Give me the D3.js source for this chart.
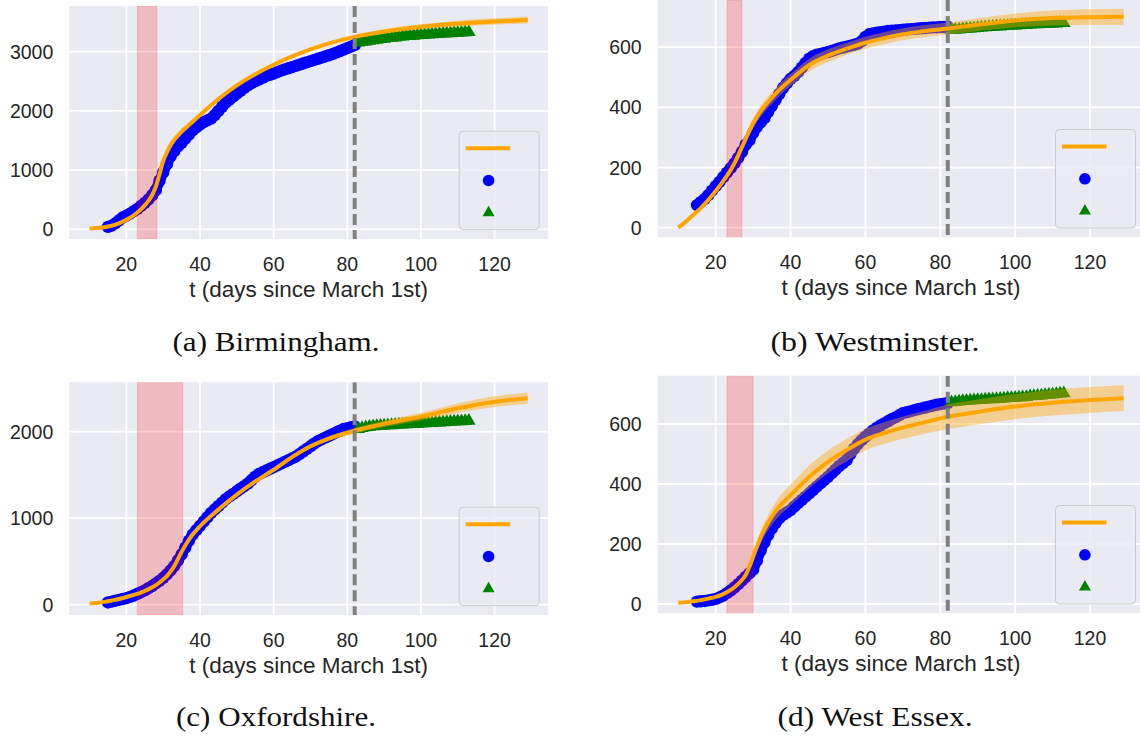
<!DOCTYPE html>
<html>
<head>
<meta charset="utf-8">
<script src="https://cdn.jsdelivr.net/npm/d3@7"></script>
<style>
  body { margin: 0; background: #fff; }
  svg { display: block; }
</style>
</head>
<body>
<script>
// days since March 1st
var T_FIT = [10, 12, 14, 16, 18, 20, 22, 24, 25, 26, 27, 28, 29, 30, 31, 32, 33, 35, 37, 40, 45, 50, 55, 60, 65, 70, 75, 82, 90, 100, 110, 120, 129];
var T_OBS = d3.range(15, 83);   // observed days (fit window)
var T_TEST = d3.range(83, 114); // held out days
var X_TICKS = [20, 40, 60, 80, 100, 120];
var CUTOFF = 82;

// Birmingham
var birminghamFit = [15, 22, 35, 60, 100, 160, 235, 340, 405, 480, 580, 720, 930, 1150, 1300, 1420, 1510, 1650, 1760, 1930, 2200, 2430, 2620, 2780, 2920, 3040, 3140, 3250, 3340, 3420, 3475, 3510, 3535];
var birminghamSpread = [2, 2, 3, 3, 4, 5, 6, 7, 8, 8, 9, 10, 10, 12, 12, 13, 14, 15, 16, 18, 20, 22, 24, 25, 27, 28, 30, 32, 36, 42, 48, 54, 58];
var birminghamObs = [40, 60, 100, 150, 200, 230, 265, 305, 345, 395, 445, 505, 575, 660, 820, 960, 1100, 1230, 1320, 1400, 1460, 1530, 1600, 1670, 1720, 1770, 1810, 1840, 1870, 1930, 2000, 2070, 2140, 2190, 2240, 2290, 2340, 2390, 2430, 2470, 2500, 2530, 2560, 2590, 2610, 2630, 2655, 2680, 2700, 2720, 2740, 2760, 2780, 2800, 2820, 2840, 2860, 2880, 2900, 2920, 2940, 2960, 2985, 3010, 3035, 3060, 3085, 3110];
var birminghamTest = [3155, 3165, 3172, 3185, 3192, 3200, 3212, 3218, 3230, 3236, 3240, 3250, 3254, 3262, 3266, 3270, 3276, 3280, 3286, 3290, 3294, 3298, 3302, 3305, 3310, 3312, 3318, 3320, 3324, 3328, 3330];

// Westminster
var westminsterFit = [0, 20, 42, 65, 92, 122, 155, 192, 214, 240, 268, 295, 322, 347, 368, 387, 403, 432, 458, 491, 541, 572, 595, 615, 630, 643, 652, 662, 675, 689, 697, 700, 701];
var westminsterSpread = [0, 2, 3, 4, 5, 6, 7, 8, 9, 10, 11, 12, 14, 16, 17, 18, 19, 20, 20, 20, 21, 21, 20, 20, 20, 20, 20, 20, 21, 23, 25, 26, 27];
var westminsterObs = [75, 85, 95, 108, 123, 138, 152, 168, 183, 198, 214, 232, 252, 276, 290, 315, 335, 350, 364, 385, 405, 425, 445, 465, 480, 495, 505, 517, 532, 548, 562, 570, 575, 578, 581, 584, 588, 592, 596, 599, 602, 605, 608, 612, 620, 634, 643, 646, 648, 650, 652, 654, 655, 656, 657, 658, 659, 660, 661, 662, 663, 664, 665, 666, 666, 667, 667, 668];
var westminsterTest = [657, 658, 659, 660, 661, 662, 663, 664, 665, 666, 667, 668, 669, 669, 670, 671, 672, 672, 673, 674, 674, 675, 676, 676, 677, 678, 678, 679, 679, 680, 680];

// Oxfordshire
var oxfordshireFit = [12, 20, 32, 48, 65, 88, 112, 140, 157, 178, 200, 225, 256, 291, 330, 382, 445, 610, 752, 906, 1098, 1271, 1424, 1559, 1705, 1830, 1920, 2010, 2090, 2173, 2270, 2346, 2385];
var oxfordshireSpread = [2, 2, 3, 3, 4, 5, 5, 6, 6, 7, 7, 8, 8, 9, 10, 10, 11, 13, 15, 17, 18, 20, 20, 22, 24, 25, 27, 32, 38, 45, 55, 62, 66];
var oxfordshireObs = [25, 35, 45, 55, 65, 75, 90, 105, 125, 145, 165, 190, 215, 245, 275, 310, 350, 395, 445, 510, 580, 660, 740, 810, 860, 910, 960, 1010, 1060, 1100, 1140, 1180, 1220, 1250, 1280, 1310, 1340, 1370, 1400, 1440, 1480, 1510, 1530, 1550, 1570, 1590, 1610, 1630, 1650, 1670, 1690, 1710, 1740, 1770, 1800, 1830, 1860, 1890, 1910, 1930, 1950, 1970, 1990, 2010, 2030, 2040, 2050, 2060];
var oxfordshireTest = [2030, 2040, 2050, 2055, 2060, 2063, 2066, 2070, 2072, 2074, 2077, 2080, 2082, 2084, 2086, 2088, 2090, 2093, 2096, 2098, 2100, 2103, 2105, 2108, 2110, 2113, 2116, 2118, 2120, 2122, 2124];

// West Essex
var westEssexFit = [4, 6, 9, 13, 18, 24, 33, 47, 56, 67, 80, 97, 124, 158, 191, 222, 248, 291, 325, 363, 424, 474, 513, 548, 570, 588, 603, 624, 640, 658, 671, 680, 686];
var westEssexSpread = [0, 1, 1, 2, 2, 3, 3, 4, 5, 5, 6, 8, 10, 14, 17, 20, 23, 28, 32, 35, 38, 38, 37, 36, 36, 37, 38, 41, 42, 42, 43, 43, 43];
var westEssexObs = [8, 9, 10, 12, 14, 17, 22, 28, 36, 45, 55, 66, 78, 90, 102, 115, 145, 178, 205, 230, 252, 270, 286, 297, 305, 313, 325, 336, 347, 358, 369, 380, 391, 402, 413, 424, 436, 448, 460, 470, 480, 500, 518, 533, 546, 558, 568, 578, 587, 595, 602, 609, 616, 622, 629, 636, 639, 642, 646, 649, 652, 655, 658, 661, 664, 666, 668, 670];
var westEssexTest = [672, 673, 675, 676, 677, 678, 679, 680, 680, 681, 682, 682, 683, 684, 685, 686, 686, 687, 688, 689, 690, 692, 693, 694, 695, 696, 697, 698, 700, 701, 702];

var yTicksA = [0, 1000, 2000, 3000];
var yTicksB = [0, 200, 400, 600];
var yTicksC = [0, 1000, 2000];
var yTicksD = [0, 200, 400, 600];

var interventions = [[23, 28.3], [23, 27], [23, 35.3], [23, 30]];
var captions = ["(a) Birmingham.", "(b) Westminster.", "(c) Oxfordshire.", "(d) West Essex."];

// panel boxes and axis ranges
var panels = [
	{fit: birminghamFit, spread: birminghamSpread, obs: birminghamObs, test: birminghamTest, ticks: yTicksA,
	 x0: 69.3, x1: 548, y0: 6, y1: 239, yDom: [-164, 3772], cap: [276, 350.7, 207]},
	{fit: westminsterFit, spread: westminsterSpread, obs: westminsterObs, test: westminsterTest, ticks: yTicksB,
	 x0: 657.7, x1: 1144.3, y0: 0, y1: 237.3, yDom: [-32, 757], cap: [875, 350.7, 209]},
	{fit: oxfordshireFit, spread: oxfordshireSpread, obs: oxfordshireObs, test: oxfordshireTest, ticks: yTicksC,
	 x0: 69.3, x1: 548, y0: 382.3, y1: 615, yDom: [-120, 2570], cap: [276, 726, 200]},
	{fit: westEssexFit, spread: westEssexSpread, obs: westEssexObs, test: westEssexTest, ticks: yTicksD,
	 x0: 657.7, x1: 1144.3, y0: 375.7, y1: 613.3, yDom: [-31, 761], cap: [875, 726, 195]}
];

var BG = "#EAEAF2";
var TXT = "#262626";
var SANS = "'Liberation Sans', Arial, Helvetica, sans-serif";

var svg = d3.select("body").append("svg")
	.attr("width", 1140)
	.attr("height", 738);

panels.forEach(function(p, i){
	var x = d3.scaleLinear().domain([4.5, 134.5]).range([p.x0, p.x1]);
	var y = d3.scaleLinear().domain(p.yDom).range([p.y1, p.y0]);
	var g = svg.append("g");

	var clipId = "clip" + i;
	g.append("clipPath").attr("id", clipId)
		.append("rect")
		.attr("x", p.x0).attr("y", p.y0)
		.attr("width", p.x1 - p.x0).attr("height", p.y1 - p.y0);

	//background
	g.append("rect")
		.attr("x", p.x0).attr("y", p.y0)
		.attr("width", p.x1 - p.x0).attr("height", p.y1 - p.y0)
		.attr("fill", BG);

	//grid
	g.selectAll(".vgrid").data(X_TICKS).enter().append("line")
		.attr("x1", function(d){ return x(d); }).attr("x2", function(d){ return x(d); })
		.attr("y1", p.y0).attr("y2", p.y1)
		.attr("stroke", "white").attr("stroke-width", 1.8);
	g.selectAll(".hgrid").data(p.ticks).enter().append("line")
		.attr("x1", p.x0).attr("x2", p.x1)
		.attr("y1", function(d){ return y(d); }).attr("y2", function(d){ return y(d); })
		.attr("stroke", "white").attr("stroke-width", 1.8);

	var plot = g.append("g").attr("clip-path", "url(#" + clipId + ")");

	//observed (blue)
	var obs = T_OBS.map(function(t, k){ return [t, p.obs[k]]; });
	plot.append("path")
		.datum(obs)
		.attr("d", d3.line().x(function(d){ return x(d[0]); }).y(function(d){ return y(d[1]); }))
		.attr("fill", "none").attr("stroke", "blue")
		.attr("stroke-width", 10.5).attr("stroke-linejoin", "round").attr("stroke-linecap", "round");
	plot.selectAll(".obs").data(obs).enter().append("circle")
		.attr("cx", function(d){ return x(d[0]); })
		.attr("cy", function(d){ return y(d[1]); })
		.attr("r", 6.2)
		.attr("fill", "blue");

	//held out (green)
	var test = T_TEST.map(function(t, k){ return [t, p.test[k]]; });
	plot.selectAll(".test").data(test).enter().append("path")
		.attr("d", d3.symbol().type(d3.symbolTriangle).size(80))
		.attr("transform", function(d){ return "translate(" + x(d[0]) + "," + y(d[1]) + ")"; })
		.attr("fill", "green");

	//fit band
	var fit = T_FIT.map(function(t, k){ return {t: t, v: p.fit[k], s: p.spread[k]}; });
	plot.append("path")
		.datum(fit)
		.attr("d", d3.area().curve(d3.curveMonotoneX)
			.x(function(d){ return x(d.t); })
			.y0(function(d){ return y(d.v - d.s); })
			.y1(function(d){ return y(d.v + d.s); }))
		.attr("fill", "orange").attr("fill-opacity", 0.4);

	//intervention window
	var iv = interventions[i];
	plot.append("rect")
		.attr("x", x(iv[0])).attr("y", p.y0)
		.attr("width", x(iv[1]) - x(iv[0])).attr("height", p.y1 - p.y0)
		.attr("fill", "red").attr("fill-opacity", 0.2)
		.attr("stroke", "red").attr("stroke-opacity", 0.15);

	//fit line
	plot.append("path")
		.datum(fit)
		.attr("d", d3.line().curve(d3.curveMonotoneX)
			.x(function(d){ return x(d.t); })
			.y(function(d){ return y(d.v); }))
		.attr("fill", "none").attr("stroke", "orange").attr("stroke-width", 4);

	//train / test cutoff
	plot.append("line")
		.attr("x1", x(CUTOFF)).attr("x2", x(CUTOFF))
		.attr("y1", p.y0).attr("y2", p.y1)
		.attr("stroke", "gray").attr("stroke-width", 4)
		.attr("stroke-dasharray", "11,5");

	//tick labels
	g.selectAll(".xt").data(X_TICKS).enter().append("text")
		.attr("x", function(d){ return x(d); })
		.attr("y", p.y1 + 31.7)
		.attr("text-anchor", "middle")
		.attr("font-family", SANS).attr("font-size", 19.5).attr("fill", TXT)
		.text(function(d){ return d; });
	g.selectAll(".yt").data(p.ticks).enter().append("text")
		.attr("x", p.x0 - 16)
		.attr("y", function(d){ return y(d); })
		.attr("dy", "0.36em")
		.attr("text-anchor", "end")
		.attr("font-family", SANS).attr("font-size", 19.5).attr("fill", TXT)
		.text(function(d){ return d; });

	g.append("text")
		.attr("x", (p.x0 + p.x1) / 2)
		.attr("y", p.y1 + 57.5)
		.attr("text-anchor", "middle")
		.attr("font-family", SANS).attr("font-size", 22.5).attr("fill", TXT)
		.text("t (days since March 1st)");

	//legend (no labels)
	var lw = 80, lh = 98.5;
	var lx = p.x1 - 8.8 - lw, ly = p.y1 - 9.3 - lh;
	var leg = g.append("g").attr("transform", "translate(" + lx + "," + ly + ")");
	leg.append("rect")
		.attr("width", lw).attr("height", lh).attr("rx", 4)
		.attr("fill", BG).attr("fill-opacity", 0.8)
		.attr("stroke", "#CCCCCC").attr("stroke-width", 1);
	leg.append("line")
		.attr("x1", 6.5).attr("x2", 51).attr("y1", 17).attr("y2", 17)
		.attr("stroke", "orange").attr("stroke-width", 4);
	leg.append("circle").attr("cx", 29.4).attr("cy", 49.3).attr("r", 5.8).attr("fill", "blue");
	leg.append("path")
		.attr("d", d3.symbol().type(d3.symbolTriangle).size(62))
		.attr("transform", "translate(29.4,81.5)")
		.attr("fill", "green");

	//caption
	svg.append("text")
		.attr("x", p.cap[0]).attr("y", p.cap[1])
		.attr("text-anchor", "middle")
		.attr("font-family", "'Liberation Serif', 'Times New Roman', serif")
		.attr("font-size", 27).attr("fill", "#111")
		.attr("textLength", p.cap[2]).attr("lengthAdjust", "spacingAndGlyphs")
		.text(captions[i]);
});
</script>
</body>
</html>
